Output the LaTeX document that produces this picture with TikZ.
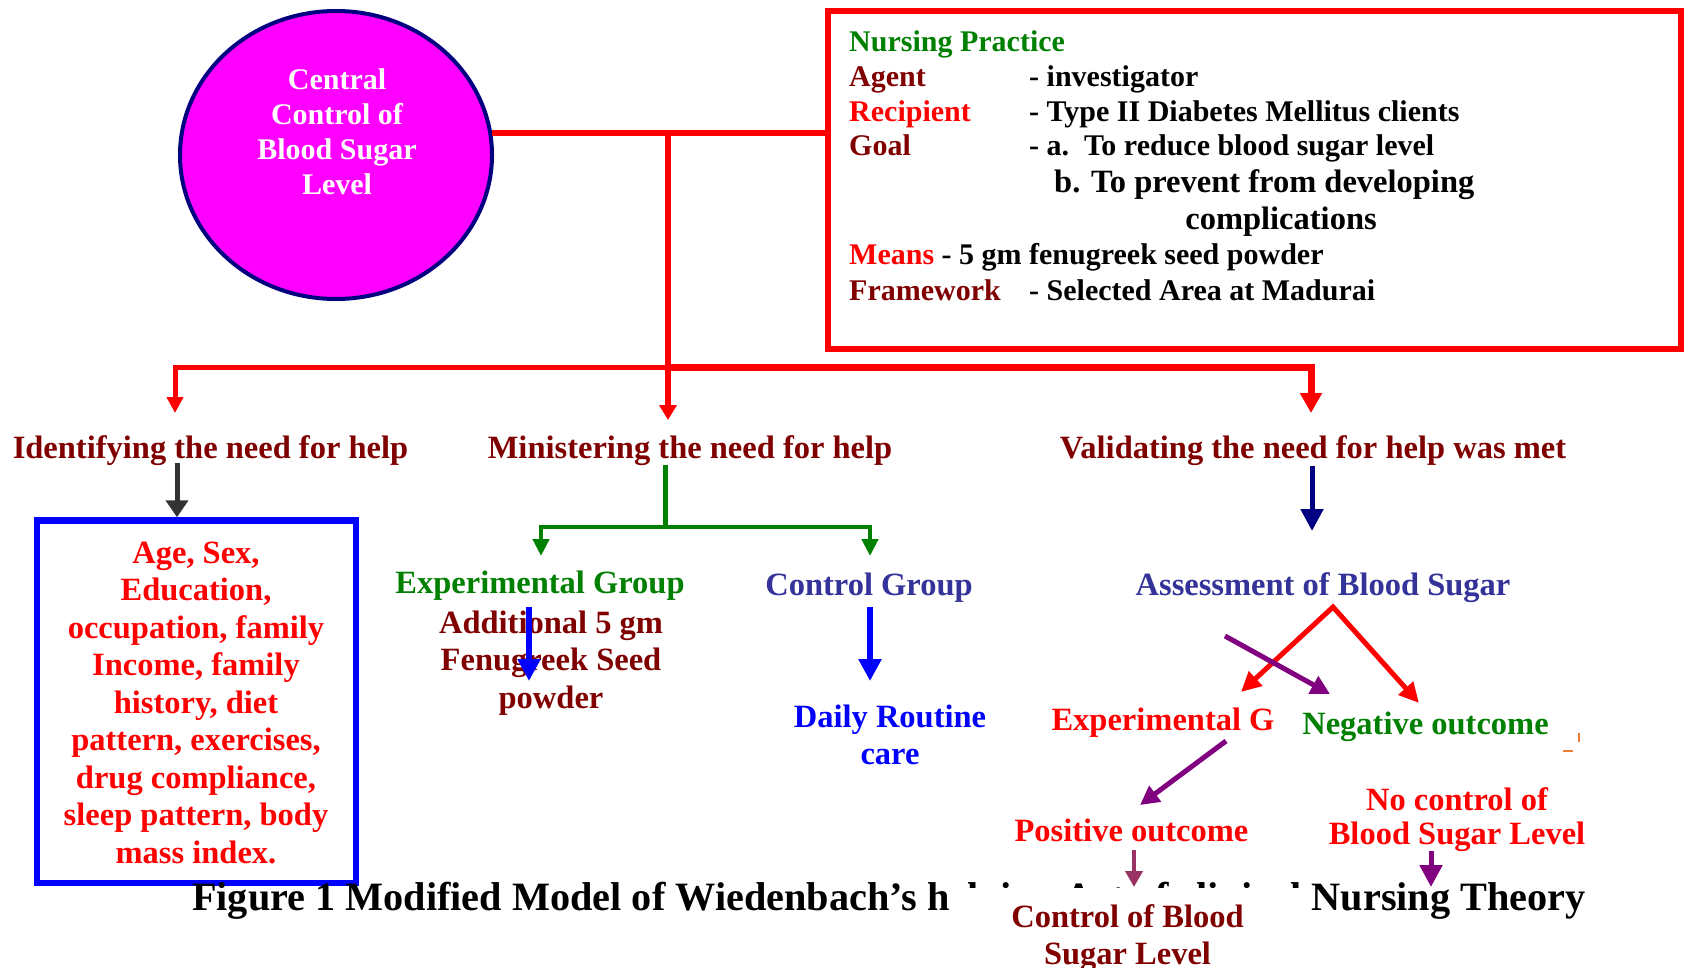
\documentclass[tikz,border=0pt]{standalone}
\usepackage{fontspec}
\setmainfont{Liberation Serif}
\usetikzlibrary{arrows.meta,shapes.geometric}
\definecolor{dredc}{HTML}{800000}
\definecolor{redc}{HTML}{FF0000}
\definecolor{greenc}{HTML}{008000}
\definecolor{slatec}{HTML}{333399}
\definecolor{bluec}{HTML}{0000FF}
\definecolor{navyc}{HTML}{000080}
\definecolor{magc}{HTML}{FF00FF}
\definecolor{purpc}{HTML}{800080}
\definecolor{plumc}{HTML}{993366}
\definecolor{grayc}{HTML}{333333}
\definecolor{orangec}{HTML}{F07838}
\newcommand{\mlines}[1]{\begin{tabular}[t]{@{}c@{}}#1\end{tabular}}
\tikzset{
  lbl/.style={inner sep=0pt, anchor=base, font=\fontsize{32.5}{37.5}\selectfont\bfseries},
  rowt/.style={inner sep=0pt, anchor=base west, font=\fontsize{30}{35}\selectfont\bfseries},
  capt/.style={inner sep=0pt, anchor=base west, font=\fontsize{40.25}{46}\selectfont\bfseries},
  tipS/.style={-{Triangle[width=16pt,length=16pt]}},
  tipM/.style={-{Triangle[width=19pt,length=19pt]}},
  tipL/.style={-{Triangle[width=22pt,length=22pt]}}
}
\begin{document}
\begin{tikzpicture}[x=1pt,y=-1pt]
\useasboundingbox (0,0) rectangle (1693,968);
\fill[white] (0,0) rectangle (1693,968);

% central ellipse
\node[ellipse, draw=navyc, line width=4pt, fill=magc, minimum width=312pt, minimum height=288pt, inner sep=0pt] (ell) at (336,155) {};
\node[lbl, white, font=\fontsize{30}{35}\selectfont\bfseries] (ellt) at (337,90) {\mlines{Central\\Control of\\Blood Sugar\\Level}};

% nursing practice box
\node[draw=redc, line width=6pt, minimum width=853pt, minimum height=337pt, inner sep=0pt] (pbox) at (1254.5,180) {};
\node[rowt, greenc] (np) at (849,52) {Nursing Practice};
\node[rowt] (agent) at (849,87) {\makebox[180pt][l]{\color{dredc}Agent}- investigator};
\node[rowt] (recip) at (849,122) {\makebox[180pt][l]{\color{redc}Recipient}- Type II Diabetes Mellitus clients};
\node[rowt] (goal) at (849,156) {\makebox[180pt][l]{\color{dredc}Goal}- a.\ \ To reduce blood sugar level};
\node[rowt, font=\fontsize{32.5}{37.5}\selectfont\bfseries] (goalb) at (1054,193) {b. To prevent from developing};
\node[lbl] (goalc) at (1281,230) {complications};
\node[rowt] (means) at (849,265) {{\color{redc}Means} - 5 gm fenugreek seed powder};
\node[rowt] (frame) at (849,300) {\makebox[180pt][l]{\color{dredc}Framework}- Selected Area at Madurai};

% red connectors
\coordinate (xm) at (668,0);
\coordinate (j1) at (ell.8 -| xm);
\coordinate (j2) at (668,367);
\coordinate (mtip) at (668,420);
\coordinate (ltip) at (175,413);
\coordinate (rtip) at (1311,413);
\draw[redc, line width=6pt] (ell.8) -- (ell.8 -| pbox.west);
\draw[redc, line width=5pt, tipS] (j2) -| (ltip);
\draw[redc, line width=7pt, -{Triangle[width=21pt,length=20pt]}] (j2) -| (rtip);
\draw[redc, line width=6pt, -{Triangle[width=17pt,length=15pt]}] (j1) -- (mtip);

% phase labels
\node[lbl, dredc] (ident) at (210.5,458) {Identifying the need for help};
\node[lbl, dredc] (minis) at (690,458) {Ministering the need for help};
\node[lbl, dredc] (valid) at (1313,458) {Validating the need for help was met};

% identifying branch
\node[draw=bluec, line width=6.5pt, minimum width=319pt, minimum height=362.5pt, inner sep=0pt] (ibox) at (196.5,701.75) {};
\node[lbl, redc] (iboxt) at (196,563) {\mlines{Age, Sex,\\Education,\\occupation, family\\Income, family\\history, diet\\pattern, exercises,\\drug compliance,\\sleep pattern, body\\mass index.}};
\coordinate (ia) at (177,463);
\draw[grayc, line width=5pt, -{Triangle[width=22pt,length=17pt]}] (ia) -- (ia |- ibox.north);

% ministering branch
\coordinate (g0) at (665,465);
\coordinate (g1) at (665,527);
\coordinate (ge) at (541,556);
\coordinate (gc) at (870,556);
\draw[greenc, line width=5pt] (g0) -- (g1);
\draw[greenc, line width=4.5pt, -{Triangle[width=16pt,length=17pt]}] (g1) -| (ge);
\draw[greenc, line width=4.5pt, -{Triangle[width=16pt,length=17pt]}] (g1) -| (gc);
\node[lbl, greenc] (expg) at (540,593) {Experimental Group};
\node[lbl, dredc] (addl) at (551,633) {\mlines{Additional 5 gm\\Fenugreek Seed\\powder}};
\coordinate (b1s) at (529,607);
\coordinate (b1e) at (529,681);
\draw[bluec, line width=6pt, tipL] (b1s) -- (b1e);
\node[lbl, slatec] (ctrl) at (869,595) {Control Group};
\coordinate (b2s) at (870,607);
\coordinate (b2e) at (870,681);
\draw[bluec, line width=6pt, tipL] (b2s) -- (b2e);
\node[lbl, bluec] (daily) at (890,727) {\mlines{Daily Routine\\care}};

% validating branch
\coordinate (n1s) at (1312,466);
\coordinate (n1e) at (1312,531);
\draw[navyc, line width=5pt, tipL] (n1s) -- (n1e);
\node[lbl, slatec] (assess) at (1323,595) {Assessment of Blood Sugar};
\coordinate (apex) at (1333,607);
\coordinate (rl) at (1241,692);
\coordinate (rr) at (1419,703);
\draw[redc, line width=5pt, {Triangle[width=19pt,length=20pt]}-{Triangle[width=19pt,length=20pt]}, line join=miter] (rl) -- (apex) -- (rr);
\coordinate (p1s) at (1225,636);
\coordinate (p1e) at (1330,694);
\draw[purpc, line width=5pt, tipM] (p1s) -- (p1e);
\node[lbl, redc] (expG) at (1163,730) {Experimental G};
\node[lbl, greenc] (neg) at (1425.5,734) {Negative outcome};
\draw[orangec, line width=1.2pt] (1579,733) -- (1579,742);
\draw[orangec, line width=1.2pt] (1563,751) -- (1573,751);
\coordinate (p2s) at (1226,741);
\coordinate (p2e) at (1140,805);
\draw[purpc, line width=5pt, tipM] (p2s) -- (p2e);
\node[lbl, redc] (pos) at (1131.5,841) {Positive outcome};
\node[lbl, redc, font=\fontsize{32.5}{34.5}\selectfont\bfseries] (noc) at (1457,810) {\mlines{No control of\\Blood Sugar Level}};

% caption and covering box
\node[capt] (cap) at (192,910) {Figure 1 Modified Model of Wiedenbach’s helping Art of clinical Nursing Theory};
\node[lbl, dredc, fill=white, minimum width=355pt, inner xsep=0pt, inner ysep=12.75pt] (ctl) at (1127.5,927) {\mlines{Control of Blood\\Sugar Level}};
\coordinate (q1s) at (1134,850);
\coordinate (q1e) at (1134,887);
\draw[plumc, line width=4.5pt, -{Triangle[width=17pt,length=16pt]}] (q1s) -- (q1e);
\coordinate (q2s) at (1431,851);
\coordinate (q2e) at (1431,887);
\draw[purpc, line width=5pt, tipL] (q2s) -- (q2e);
\end{tikzpicture}
\end{document}
